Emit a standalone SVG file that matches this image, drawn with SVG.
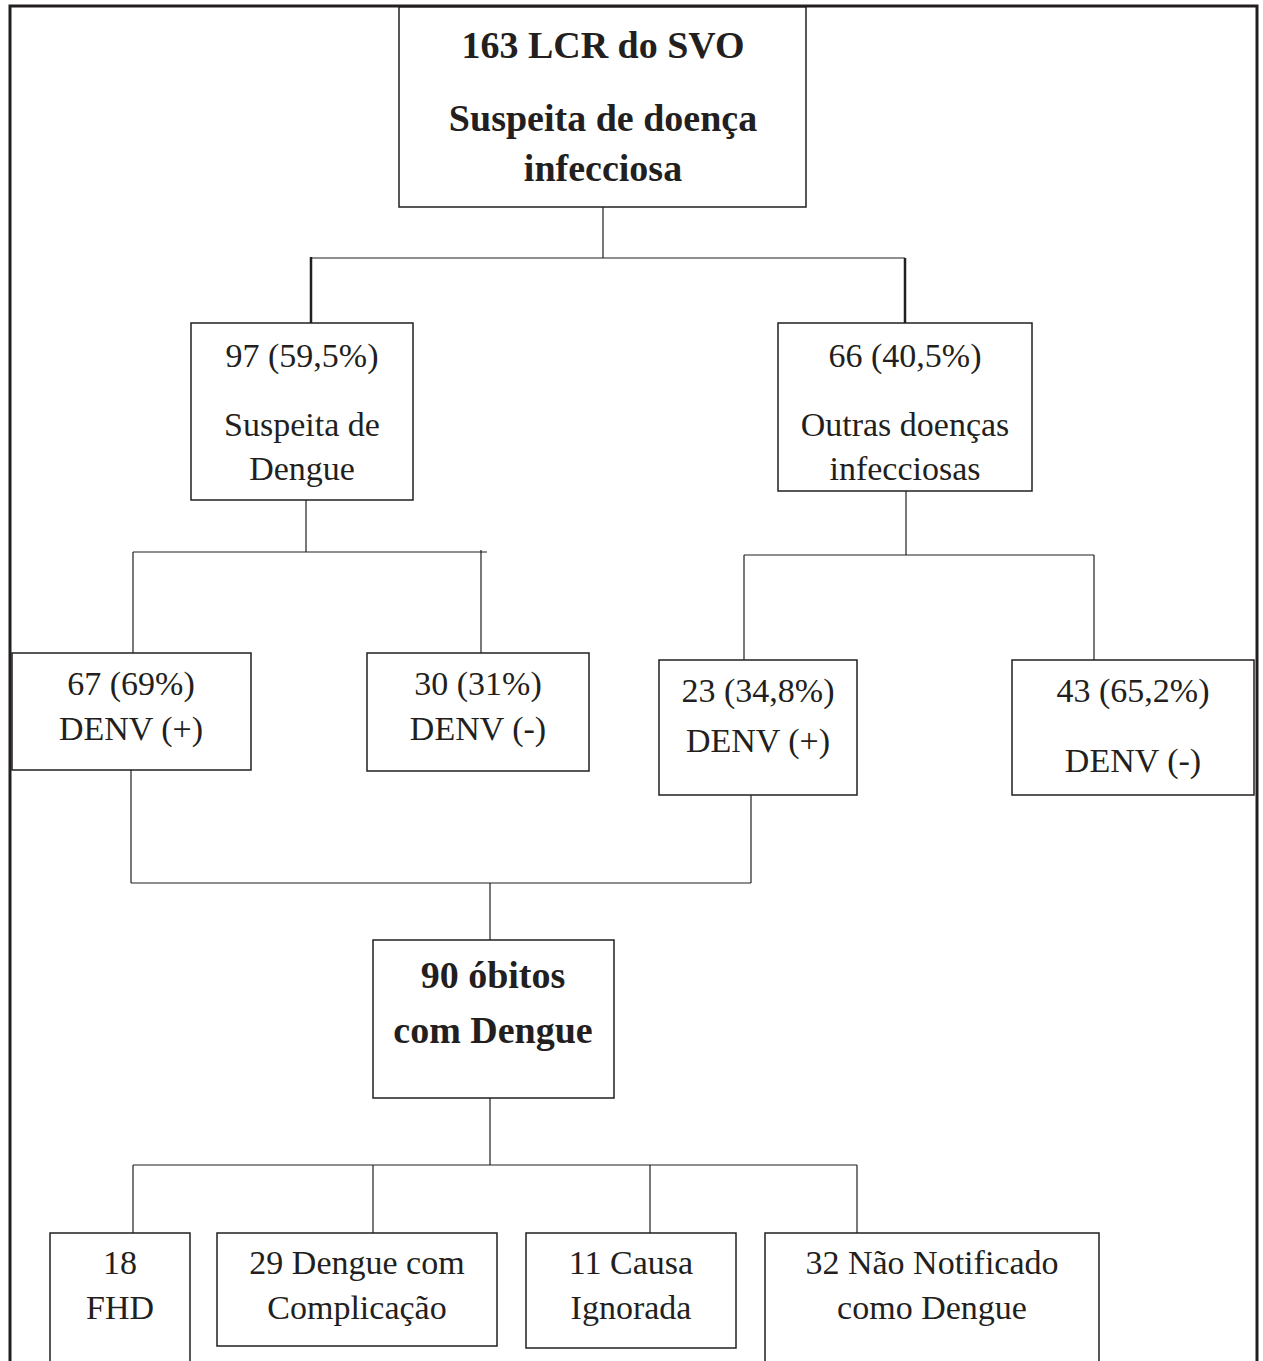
<svg xmlns="http://www.w3.org/2000/svg" width="1263" height="1361" viewBox="0 0 1263 1361">
<style>
.box{fill:#fff;stroke:#231f20;stroke-width:1.5}
.t{font-family:"Liberation Serif","Times New Roman",serif;font-size:34px;fill:#231f20;text-anchor:middle}
.b{font-weight:bold;font-size:38px}
.c{stroke:#231f20;stroke-width:1.2;fill:none}
.ck{stroke:#231f20;stroke-width:2.5;fill:none}
</style>
<rect width="1263" height="1361" fill="#fff"/>
<path d="M10,1361 V6 H1257 V1361" fill="none" stroke="#231f20" stroke-width="3"/>
<g id="connectors">
<path class="c" d="M603,207 V258 M311,258 H905"/>
<path class="ck" d="M311,257 V323 M905,258 V323"/>
<path class="c" d="M306,500 V552 M133,552 H487 M133,552 V653 M481,550 V653"/>
<path class="c" d="M906,491 V555 M744,555 H1094 M744,555 V660 M1094,555 V660"/>
<path class="c" d="M131,770 V883 M751,795 V883 M131,883 H751 M490,883 V940"/>
<path class="c" d="M490,1098 V1165 M133,1165 H857 M133,1165 V1233 M373,1165 V1233 M650,1165 V1233 M857,1165 V1233"/>
</g>
<g id="n-top">
<rect class="box" x="399" y="7" width="407" height="200"/>
<text class="t b" x="603" y="58">163 LCR do SVO</text>
<text class="t b" x="603" y="131">Suspeita de doença</text>
<text class="t b" x="603" y="181">infecciosa</text>
</g>
<g id="n-97">
<rect class="box" x="191" y="323" width="222" height="177"/>
<text class="t" x="302" y="367">97 (59,5%)</text>
<text class="t" x="302" y="436">Suspeita de</text>
<text class="t" x="302" y="480">Dengue</text>
</g>
<g id="n-66">
<rect class="box" x="778" y="323" width="254" height="168"/>
<text class="t" x="905" y="367">66 (40,5%)</text>
<text class="t" x="905" y="436">Outras doenças</text>
<text class="t" x="905" y="480">infecciosas</text>
</g>
<g id="n-67">
<rect class="box" x="12" y="653" width="239" height="117"/>
<text class="t" x="131" y="695">67 (69%)</text>
<text class="t" x="131" y="740">DENV (+)</text>
</g>
<g id="n-30">
<rect class="box" x="367" y="653" width="222" height="118"/>
<text class="t" x="478" y="695">30 (31%)</text>
<text class="t" x="478" y="740">DENV (-)</text>
</g>
<g id="n-23">
<rect class="box" x="659" y="660" width="198" height="135"/>
<text class="t" x="758" y="702">23 (34,8%)</text>
<text class="t" x="758" y="752">DENV (+)</text>
</g>
<g id="n-43">
<rect class="box" x="1012" y="660" width="242" height="135"/>
<text class="t" x="1133" y="702">43 (65,2%)</text>
<text class="t" x="1133" y="772">DENV (-)</text>
</g>
<g id="n-90">
<rect class="box" x="373" y="940" width="241" height="158"/>
<text class="t b" x="493" y="988">90 óbitos</text>
<text class="t b" x="493" y="1043">com Dengue</text>
</g>
<g id="n-18">
<rect class="box" x="50" y="1233" width="140" height="140"/>
<text class="t" x="120" y="1274">18</text>
<text class="t" x="120" y="1319">FHD</text>
</g>
<g id="n-29">
<rect class="box" x="217" y="1233" width="280" height="113"/>
<text class="t" x="357" y="1274">29 Dengue com</text>
<text class="t" x="357" y="1319">Complicação</text>
</g>
<g id="n-11">
<rect class="box" x="526" y="1233" width="210" height="115"/>
<text class="t" x="631" y="1274">11 Causa</text>
<text class="t" x="631" y="1319">Ignorada</text>
</g>
<g id="n-32">
<rect class="box" x="765" y="1233" width="334" height="140"/>
<text class="t" x="932" y="1274">32 Não Notificado</text>
<text class="t" x="932" y="1319">como Dengue</text>
</g>
</svg>
